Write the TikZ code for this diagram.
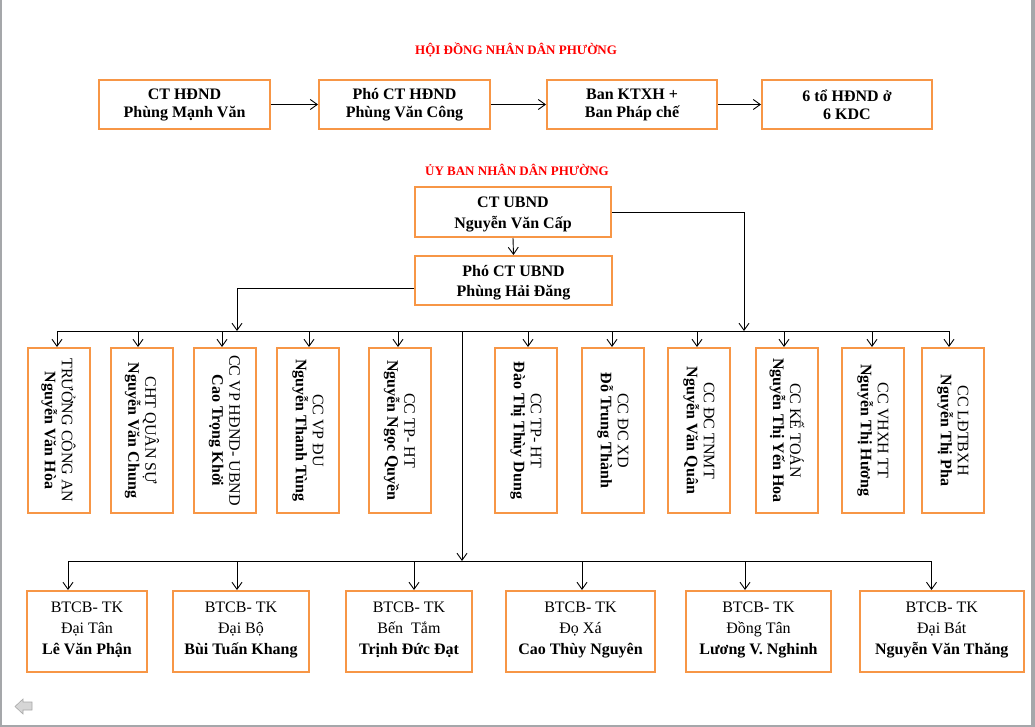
\documentclass[tikz,border=0pt]{standalone}
\usepackage{fontspec}
\setmainfont{Liberation Serif}
\usetikzlibrary{arrows.meta}
\definecolor{orng}{HTML}{F79646}
\definecolor{framegray}{HTML}{A5A7AA}
\definecolor{icongray}{HTML}{D6D6D6}
\definecolor{iconline}{HTML}{A8A8A8}
\begin{document}
\begin{tikzpicture}[x=1pt,y=-1pt,
  box/.style={draw=orng, line width=2pt, fill=white, inner sep=0pt, align=center},
  hbox/.style={box, minimum height=49pt, font=\fontsize{16}{18}\selectfont\bfseries},
  ubox/.style={box, minimum height=50pt},
  utext/.style={align=center, inner sep=0pt, font=\fontsize{16}{20.5}\selectfont\bfseries},
  vbox/.style={box, minimum width=62pt, minimum height=165pt},
  vtext/.style={rotate=-90, align=center, inner sep=0pt, font=\fontsize{16}{17}\selectfont},
  bbox/.style={box, minimum height=81pt},
  btext/.style={align=center, inner sep=0pt, font=\fontsize{16}{21}\selectfont},
  ttl/.style={text=red, inner sep=0pt, font=\fontsize{13}{15}\selectfont\bfseries},
  ln/.style={line width=0.9pt, draw=black},
  arr/.style={ln, -{Straight Barb[length=7pt,width=10pt,line width=0.9pt]}},
]
\useasboundingbox (0,0) rectangle (1035,727);
\fill[white] (0,0) rectangle (1035,727);
\fill[framegray] (0,0) rectangle (2,727);
\fill[framegray] (1031,0) rectangle (1035,727);
\fill[framegray] (0,725) rectangle (1035,727);

% titles
\node[ttl] (t1) at (516,50) {HỘI ĐỒNG NHÂN DÂN PHƯỜNG};
\node[ttl] (t2) at (517,170) {ỦY BAN NHÂN DÂN PHƯỜNG};

% top row
\node[hbox, minimum width=171pt] (h1) at (184.5,104.5) {CT HĐND\\Phùng Mạnh Văn};
\node[hbox, minimum width=171pt] (h2) at (404.5,104.5) {Phó CT HĐND\\Phùng Văn Công};
\node[hbox, minimum width=170pt] (h3) at (632,104.5) {Ban KTXH +\\Ban Pháp chế};
\node[hbox, minimum width=170pt] (h4) at (847,104.5) {6 tổ HĐND ở\\6 KDC};
\draw[arr] (h1.east) -- (h2.west);
\draw[arr] (h2.east) -- (h3.west);
\draw[arr] (h3.east) -- (h4.west);

% UBND
\node[ubox, minimum width=196pt] (u1) at (513,212) {};
\node[ubox, minimum width=197pt, minimum height=49pt] (u2) at (513.5,280.5) {};
\node[utext] (u1t) at ([yshift=-2.5pt]u1.center) {CT UBND\\Nguyễn Văn Cấp};
\node[utext] (u2t) at ([yshift=-2pt]u2.center) {Phó CT UBND\\Phùng Hải Đăng};
\draw[arr] (u1.south) -- (u2.north);

% bus coordinates
\coordinate (jL) at (237,331);
\coordinate (jR) at (744,331);
\draw[arr] ([yshift=-7.5pt]u2.west) -| (jL);
\draw[arr] (u1.east) -| (jR);

% vertical boxes
\node[vbox] (v1) at (58.5,430.5) {};
\node[vbox] (v2) at (142,430.5) {};
\node[vbox] (v3) at (224.5,430.5) {};
\node[vbox] (v4) at (308,430.5) {};
\node[vbox] (v5) at (399.5,430.5) {};
\node[vbox] (v6) at (526,430.5) {};
\node[vbox] (v7) at (613,430.5) {};
\node[vbox] (v8) at (699,430.5) {};
\node[vbox] (v9) at (787,430.5) {};
\node[vbox] (v10) at (873,430.5) {};
\node[vbox] (v11) at (953,430.5) {};

\node[vtext] (v1t) at (v1.center) {TRƯỞNG CÔNG AN\\\textbf{Nguyễn Văn Hòa}};
\node[vtext] (v2t) at (v2.center) {CHT QUÂN SỰ\\\textbf{Nguyễn Văn Chung}};
\node[vtext] (v3t) at (v3.center) {CC VP HĐND- UBND\\\textbf{Cao Trọng Khởi}};
\node[vtext] (v4t) at (v4.center) {CC VP ĐU\\\textbf{Nguyễn Thanh Tùng}};
\node[vtext] (v5t) at (v5.center) {CC TP- HT\\\textbf{Nguyễn Ngọc Quyền}};
\node[vtext] (v6t) at (v6.center) {CC TP- HT\\\textbf{Đào Thị Thùy Dung}};
\node[vtext] (v7t) at (v7.center) {CC ĐC XD\\\textbf{Đỗ Trung Thành}};
\node[vtext] (v8t) at (v8.center) {CC ĐC TNMT\\\textbf{Nguyễn Văn Quân}};
\node[vtext] (v9t) at (v9.center) {CC KẾ TOÁN\\\textbf{Nguyễn Thị Yến Hoa}};
\node[vtext] (v10t) at (v10.center) {CC VHXH TT\\\textbf{Nguyễn Thị Hương}};
\node[vtext] (v11t) at (v11.center) {CC LĐTBXH\\\textbf{Nguyễn Thị Pha}};

\coordinate (a1) at (57,331);
\coordinate (a2) at (138,331);
\coordinate (a3) at (222,331);
\coordinate (a4) at (309,331);
\coordinate (a5) at (398,331);
\coordinate (a6) at (528,331);
\coordinate (a7) at (612,331);
\coordinate (a8) at (697,331);
\coordinate (a9) at (784,331);
\coordinate (a10) at (872,331);
\coordinate (a11) at (949,331);
\draw[ln] (a1) -- (a11);
\foreach \i in {1,...,11} {\draw[arr] (a\i) -- (a\i |- v\i.north);}

% middle drop and lower bus
\coordinate (m1) at (462,331);
\coordinate (m2) at (462,561);
\draw[arr] (m1) -- (m2);

\node[bbox, minimum width=120pt] (b1) at (87,631.5) {};
\node[bbox, minimum width=136pt] (b2) at (241,631.5) {};
\node[bbox, minimum width=126pt] (b3) at (409,631.5) {};
\node[bbox, minimum width=149pt] (b4) at (580.5,631.5) {};
\node[bbox, minimum width=145pt] (b5) at (758.5,631.5) {};
\node[bbox, minimum width=164.5pt] (b6) at (941.75,631.5) {};

\node[btext] (b1t) at ([yshift=1.5pt]b1.center) {BTCB- TK\\Đại Tân\\\textbf{Lê Văn Phận}};
\node[btext] (b2t) at ([yshift=1.5pt]b2.center) {BTCB- TK\\Đại Bộ\\\textbf{Bùi Tuấn Khang}};
\node[btext] (b3t) at ([yshift=1.5pt]b3.center) {BTCB- TK\\Bến\ \ Tắm\\\textbf{Trịnh Đức Đạt}};
\node[btext] (b4t) at ([yshift=1.5pt]b4.center) {BTCB- TK\\Đọ Xá\\\textbf{Cao Thùy Nguyên}};
\node[btext] (b5t) at ([yshift=1.5pt]b5.center) {BTCB- TK\\Đồng Tân\\\textbf{Lương V. Nghinh}};
\node[btext] (b6t) at ([yshift=1.5pt]b6.center) {BTCB- TK\\Đại Bát\\\textbf{Nguyễn Văn Thăng}};

\coordinate (c1) at (68,561);
\coordinate (c2) at (237,561);
\coordinate (c3) at (414,561);
\coordinate (c4) at (582,561);
\coordinate (c5) at (745,561);
\coordinate (c6) at (931.5,561);
\draw[ln] (c1) -- (c6);
\foreach \i in {1,...,6} {\draw[arr] (c\i) -- (c\i |- b\i.north);}

% back navigation icon
\filldraw[fill=icongray, draw=iconline, line width=0.6pt]
  (15,706.5) -- (23,699) -- (23,702) -- (32,702) -- (32,710) -- (23,710) -- (23,714) -- cycle;
\end{tikzpicture}
\end{document}
